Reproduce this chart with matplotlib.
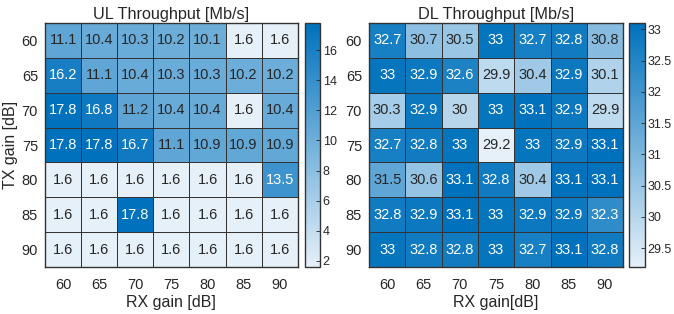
import matplotlib
matplotlib.use("Agg")
import matplotlib.pyplot as plt
import numpy as np
from matplotlib.colors import LinearSegmentedColormap

plt.rcParams['font.family'] = ['Liberation Sans', 'DejaVu Sans']

rx_gain = [60, 65, 70, 75, 80, 85, 90]
tx_gain = [60, 65, 70, 75, 80, 85, 90]

ul_tp = [
    [11.1, 10.4, 10.3, 10.2, 10.1, 1.6, 1.6],
    [16.2, 11.1, 10.4, 10.3, 10.3, 10.2, 10.2],
    [17.8, 16.8, 11.2, 10.4, 10.4, 1.6, 10.4],
    [17.8, 17.8, 16.7, 11.1, 10.9, 10.9, 10.9],
    [1.6, 1.6, 1.6, 1.6, 1.6, 1.6, 13.5],
    [1.6, 1.6, 17.8, 1.6, 1.6, 1.6, 1.6],
    [1.6, 1.6, 1.6, 1.6, 1.6, 1.6, 1.6],
]
dl_tp = [
    [32.7, 30.7, 30.5, 33, 32.7, 32.8, 30.8],
    [33, 32.9, 32.6, 29.9, 30.4, 32.9, 30.1],
    [30.3, 32.9, 30, 33, 33.1, 32.9, 29.9],
    [32.7, 32.8, 33, 29.2, 33, 32.9, 33.1],
    [31.5, 30.6, 33.1, 32.8, 30.4, 33.1, 33.1],
    [32.8, 32.9, 33.1, 33, 32.9, 32.9, 32.3],
    [33, 32.8, 32.8, 33, 32.7, 33.1, 32.8],
]

cmap = LinearSegmentedColormap.from_list('sky', [(0.90, 0.94, 0.975), (0.0, 0.447, 0.741)])
edge = (0.2, 0.2, 0.2)
tcol = (0.15, 0.15, 0.15)

fig = plt.figure(figsize=(6.74, 3.14), dpi=100)

def fmt(v):
    return f"{v:g}"

def heat(ax_rect, cax_rect, data, title, xlabel, ylabel, cticks):
    data = np.array(data, dtype=float)
    ax = fig.add_axes(ax_rect)
    cax = fig.add_axes(cax_rect)
    vmin, vmax = data.min(), data.max()
    n = len(rx_gain)
    m = ax.pcolormesh(np.arange(n + 1), np.arange(len(tx_gain) + 1), data,
                      cmap=cmap, vmin=vmin, vmax=vmax,
                      edgecolors=edge, linewidth=0.5)
    ax.set_xlim(0, n)
    ax.set_ylim(len(tx_gain), 0)
    for i in range(len(tx_gain)):
        for j in range(n):
            v = data[i, j]
            frac = (v - vmin) / (vmax - vmin)
            col = 'white' if frac > 0.65 else tcol
            ax.text(j + 0.5, i + 0.5, fmt(v), ha='center', va='center',
                    fontsize=10.5, color=col)
    ax.set_xticks(np.arange(n) + 0.5)
    ax.set_xticklabels([str(x) for x in rx_gain], fontsize=10.5, color=tcol)
    ax.set_yticks(np.arange(len(tx_gain)) + 0.5)
    ax.set_yticklabels([str(y) for y in tx_gain], fontsize=10.5, color=tcol)
    ax.tick_params(axis='x', length=0, pad=8)
    ax.tick_params(axis='y', length=0, pad=5)
    ax.set_xlabel(xlabel, fontsize=11.5, color=tcol, labelpad=2)
    if ylabel:
        ax.set_ylabel(ylabel, fontsize=11.5, color=tcol, labelpad=3)
    ax.set_title(title, fontsize=11.7, color=tcol, pad=3)
    for s in ax.spines.values():
        s.set_color(edge)
        s.set_linewidth(1.0)
    cb = fig.colorbar(m, cax=cax)
    cb.set_ticks(cticks)
    cb.set_ticklabels([f"{t:g}" for t in cticks])
    cb.ax.tick_params(labelsize=9, length=3, width=0.6, direction='in',
                      colors=tcol, pad=2)
    cb.outline.set_edgecolor(edge)
    cb.outline.set_linewidth(1.0)
    return ax

heat([0.0668, 0.1497, 0.375, 0.777], [0.4525, 0.1497, 0.0223, 0.777],
     ul_tp, 'UL Throughput [Mb/s]', 'RX gain [dB]', 'TX gain [dB]',
     [2, 4, 6, 8, 10, 12, 14, 16])
heat([0.5475, 0.1497, 0.377, 0.777], [0.9332, 0.1497, 0.0237, 0.777],
     dl_tp, 'DL Throughput [Mb/s]', 'RX gain[dB]', None,
     [29.5, 30, 30.5, 31, 31.5, 32, 32.5, 33])

fig.savefig('out.png', dpi=100)
